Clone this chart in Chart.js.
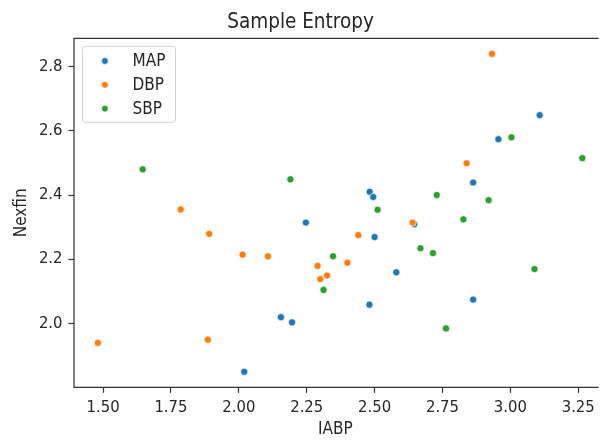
<!DOCTYPE html>
<html lang="en">
<head>
    <meta charset="UTF-8">
    <title>Sample Entropy</title>
    <style>
        html, body { margin: 0; padding: 0; background: #fff; overflow: hidden; }
    </style>
</head>
<body>
    <canvas id="myChart" width="601" height="441"></canvas>

<script src="https://cdn.jsdelivr.net/npm/chart.js@4.4.1/dist/chart.umd.min.js"></script>
<script>

// values (IABP on x, Nexfin on y)
var seriesNames = ['MAP', 'DBP', 'SBP'];
var seriesColors = ['#1f77b4', '#ff7f0e', '#2ca02c'];

var mapX = [2.02, 2.155, 2.196, 2.247, 2.481, 2.482, 2.495, 2.50, 2.58, 2.646, 2.863, 2.863, 2.956, 3.108];
var mapY = [1.849, 2.019, 2.003, 2.314, 2.058, 2.41, 2.394, 2.269, 2.159, 2.309, 2.439, 2.074, 2.574, 2.649];

var dbpX = [1.481, 1.786, 1.886, 1.891, 2.014, 2.107, 2.29, 2.30, 2.325, 2.40, 2.44, 2.64, 2.839, 2.932];
var dbpY = [1.939, 2.355, 1.949, 2.279, 2.214, 2.209, 2.179, 2.138, 2.149, 2.189, 2.275, 2.314, 2.499, 2.84];

var sbpX = [1.646, 2.19, 2.312, 2.347, 2.511, 2.669, 2.715, 2.729, 2.763, 2.827, 2.92, 3.004, 3.089, 3.265];
var sbpY = [2.48, 2.449, 2.104, 2.209, 2.354, 2.234, 2.219, 2.40, 1.984, 2.324, 2.384, 2.58, 2.169, 2.515];

var xTicks = [1.50, 1.75, 2.00, 2.25, 2.50, 2.75, 3.00, 3.25];
var yTicks = [2.0, 2.2, 2.4, 2.6, 2.8];

var FONT = "'DejaVu Sans Condensed', 'DejaVu Sans', sans-serif";
var INK = '#262626';
var SPINE = '#333333';

function pairs(xs, ys) {
    return xs.map(function(x, i) { return { x: x, y: ys[i] }; });
}

function makeSet(i, xs, ys, order) {
    return {
        label: seriesNames[i],
        data: pairs(xs, ys),
        backgroundColor: seriesColors[i],
        borderColor: '#ffffff',
        borderWidth: 0.7,
        pointRadius: 3.6,
        pointHoverRadius: 3.6,
        order: order
    };
}

// matplotlib style frame (left, top, bottom) + legend box inside the axes
var framePlugin = {
    id: 'frame',
    afterDatasetsDraw: function(chart) {
        var ctx = chart.ctx, a = chart.chartArea;
        ctx.save();
        ctx.strokeStyle = SPINE;
        ctx.lineWidth = 1.2;
        ctx.beginPath();
        ctx.moveTo(a.right + 2, a.top);
        ctx.lineTo(a.left, a.top);
        ctx.lineTo(a.left, a.bottom);
        ctx.lineTo(a.right + 2, a.bottom);
        ctx.stroke();

        // legend
        var bx = a.left + 8.5, by = a.top + 8, bw = 93, bh = 76;
        ctx.fillStyle = 'rgba(255,255,255,0.85)';
        ctx.strokeStyle = '#d0d0d0';
        ctx.lineWidth = 1;
        ctx.beginPath();
        ctx.roundRect(bx, by, bw, bh, 3);
        ctx.fill();
        ctx.stroke();

        ctx.font = '17px ' + FONT;
        ctx.textBaseline = 'middle';
        ctx.textAlign = 'left';
        chart.data.datasets.forEach(function(ds, i) {
            var cy = by + 14.7 + i * 23.8;
            ctx.beginPath();
            ctx.arc(bx + 22.4, cy, 3.4, 0, Math.PI * 2);
            ctx.fillStyle = ds.backgroundColor;
            ctx.fill();
            ctx.strokeStyle = '#fff';
            ctx.lineWidth = 0.7;
            ctx.stroke();
            ctx.fillStyle = INK;
            ctx.fillText(ds.label, bx + 50, cy + 0.5);
        });
        ctx.restore();
    }
};

var ctx = document.getElementById('myChart').getContext('2d');
var chart = new Chart(ctx, {
    type: 'scatter',
    data: {
        datasets: [
            makeSet(0, mapX, mapY, 2),
            makeSet(1, dbpX, dbpY, 1),
            makeSet(2, sbpX, sbpY, 0)
        ]
    },
    options: {
        responsive: false,
        animation: false,
        events: [],
        layout: { padding: 0 },
        plugins: {
            legend: { display: false },
            tooltip: { enabled: false },
            title: {
                display: true,
                text: 'Sample Entropy',
                color: INK,
                font: { family: FONT, size: 20.5, weight: 'normal' },
                padding: { top: 10.7, bottom: 3 }
            }
        },
        scales: {
            x: {
                type: 'linear',
                min: 1.393,
                max: 3.318,
                afterFit: function(axis) { axis.height = 53.7; },
                afterBuildTicks: function(axis) {
                    axis.ticks = xTicks.map(function(v) { return { value: v }; });
                },
                ticks: {
                    color: INK,
                    padding: 5.5,
                    maxRotation: 0,
                    font: { family: FONT, size: 16.5 },
                    callback: function(v) { return Number(v).toFixed(2); }
                },
                grid: {
                    display: true,
                    drawOnChartArea: false,
                    drawTicks: true,
                    tickLength: 5.5,
                    tickColor: SPINE,
                    tickWidth: 1.2
                },
                border: { display: false },
                title: {
                    display: true,
                    text: 'IABP',
                    color: INK,
                    font: { family: FONT, size: 17 },
                    padding: { top: 0, bottom: 1.5 }
                }
            },
            y: {
                type: 'linear',
                min: 1.8005,
                max: 2.8886,
                afterFit: function(axis) { axis.width = 74; },
                afterBuildTicks: function(axis) {
                    axis.ticks = yTicks.map(function(v) { return { value: v }; });
                },
                ticks: {
                    color: INK,
                    padding: 6,
                    font: { family: FONT, size: 16.5 },
                    callback: function(v) { return Number(v).toFixed(1); }
                },
                grid: {
                    display: true,
                    drawOnChartArea: false,
                    drawTicks: true,
                    tickLength: 5.5,
                    tickColor: SPINE,
                    tickWidth: 1.2
                },
                border: { display: false },
                title: {
                    display: true,
                    text: 'Nexfin',
                    color: INK,
                    font: { family: FONT, size: 17 },
                    padding: { top: 11.8, bottom: 0 }
                }
            }
        }
    },
    plugins: [framePlugin]
});

</script>
</body>
</html>
